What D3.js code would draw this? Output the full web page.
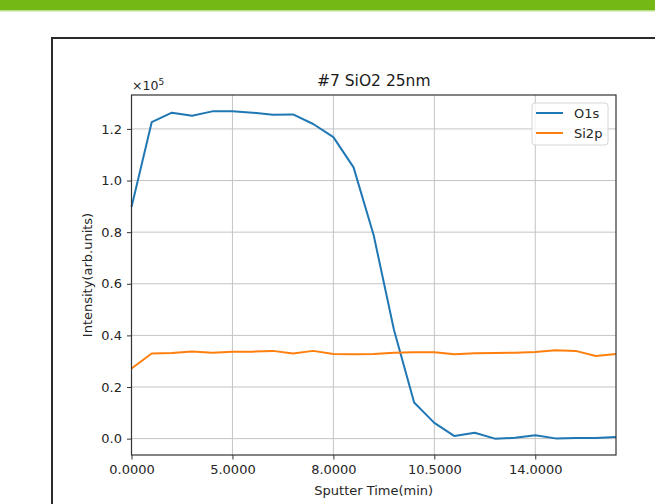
<!DOCTYPE html>
<html>
<head>
<meta charset="utf-8">
<script src="https://cdn.jsdelivr.net/npm/d3@7"></script>
<style>
  html, body { margin: 0; padding: 0; background: #fff; }
  svg { display: block; font-family: "DejaVu Sans", sans-serif; }
</style>
</head>
<body>
<svg id="chart" width="655" height="504"></svg>
<script>
// Sample index on the x axis, labelled with sputter time every 5 points
const tickIndex = [0, 5, 10, 15, 20];
const tickLabels = ["0.0000", "5.0000", "8.0000", "10.5000", "14.0000"];

// Intensities (arb. units)
const o1s = [89700, 122600, 126300, 125100, 126800, 126800, 126300, 125500, 125600, 121900,
             116800, 105100, 78700, 42200, 14000, 6100, 1000, 2300, 0, 300,
             1300, 100, 200, 200, 600];
const si2p = [27200, 33000, 33200, 33800, 33300, 33700, 33700, 34000, 33000, 34000,
              32800, 32700, 32800, 33300, 33500, 33500, 32700, 33100, 33200, 33300,
              33600, 34200, 34000, 32000, 32800];

const yTicks = [0, 20000, 40000, 60000, 80000, 100000, 120000];

const series = [
  { name: "O1s", values: o1s, color: "#1f77b4" },
  { name: "Si2p", values: si2p, color: "#ff7f0e" }
];

const svg = d3.select("#chart");

// page decoration: green header bar and outer box
svg.append("rect").attr("x", 0).attr("y", 0).attr("width", 655).attr("height", 10).attr("fill", "#73b814");
svg.append("rect").attr("x", 0).attr("y", 10).attr("width", 655).attr("height", 1.5).attr("fill", "#b9e08c");
svg.append("rect").attr("x", 52).attr("y", 38).attr("width", 700).attr("height", 600)
  .attr("fill", "none").attr("stroke", "#2a2a2a").attr("stroke-width", 2);

// plot area
const plot = { left: 131.5, right: 616, top: 95, bottom: 455 };

const x = d3.scaleLinear()
  .domain([0, o1s.length - 1])
  .range([plot.left, plot.right]);

// matplotlib style 5% margins on y
const allVals = o1s.concat(si2p);
const yMin = d3.min(allVals), yMax = d3.max(allVals);
const pad = (yMax - yMin) * 0.05;
const y = d3.scaleLinear()
  .domain([yMin - pad, yMax + pad])
  .range([plot.bottom, plot.top]);

// grid
const grid = svg.append("g");
grid.selectAll(".gx").data(tickIndex).enter().append("line")
  .attr("x1", d => x(d)).attr("x2", d => x(d))
  .attr("y1", plot.top).attr("y2", plot.bottom)
  .attr("stroke", "#c4c4c4").attr("stroke-width", 1);
grid.selectAll(".gy").data(yTicks).enter().append("line")
  .attr("x1", plot.left).attr("x2", plot.right)
  .attr("y1", d => y(d)).attr("y2", d => y(d))
  .attr("stroke", "#c4c4c4").attr("stroke-width", 1);

// lines
const line = d3.line()
  .x((d, i) => x(i))
  .y(d => y(d));

svg.selectAll(".series").data(series).enter().append("path")
  .attr("d", d => line(d.values))
  .attr("fill", "none")
  .attr("stroke", d => d.color)
  .attr("stroke-width", 2)
  .attr("stroke-linejoin", "round");

// frame
svg.append("rect")
  .attr("x", plot.left).attr("y", plot.top)
  .attr("width", plot.right - plot.left).attr("height", plot.bottom - plot.top)
  .attr("fill", "none").attr("stroke", "#333").attr("stroke-width", 1.2);

// axes
const xAxis = svg.append("g")
  .attr("transform", `translate(0,${plot.bottom})`)
  .call(d3.axisBottom(x)
    .tickValues(tickIndex)
    .tickFormat((d, i) => tickLabels[i])
    .tickSize(4.5)
    .tickPadding(5));

const yAxis = svg.append("g")
  .attr("transform", `translate(${plot.left},0)`)
  .call(d3.axisLeft(y)
    .tickValues(yTicks)
    .tickFormat(d => (d / 1e5).toFixed(1))
    .tickSize(4.5)
    .tickPadding(5));

[xAxis, yAxis].forEach(g => {
  g.select(".domain").remove();
  g.selectAll(".tick line").attr("stroke", "#333");
  g.selectAll(".tick text")
    .attr("fill", "#262626")
    .style("font-family", "DejaVu Sans")
    .style("font-size", "13px");
});

// offset text
const offset = svg.append("text")
  .attr("x", 132).attr("y", 90)
  .attr("fill", "#262626")
  .style("font-size", "12.5px");
offset.append("tspan").text("×10");
offset.append("tspan").attr("dy", -5).style("font-size", "9px").text("5");

// title and axis labels
svg.append("text")
  .attr("x", (plot.left + plot.right) / 2).attr("y", 86)
  .attr("text-anchor", "middle")
  .attr("fill", "#1a1a1a")
  .style("font-size", "15.5px")
  .text("#7 SiO2 25nm");

svg.append("text")
  .attr("x", (plot.left + plot.right) / 2).attr("y", 495)
  .attr("text-anchor", "middle")
  .attr("fill", "#262626")
  .style("font-size", "13px")
  .text("Sputter Time(min)");

svg.append("text")
  .attr("transform", `translate(92,${(plot.top + plot.bottom) / 2}) rotate(-90)`)
  .attr("text-anchor", "middle")
  .attr("fill", "#262626")
  .style("font-size", "13px")
  .text("Intensity(arb.units)");

// legend
const legend = svg.append("g").attr("transform", "translate(532,103)");
legend.append("rect")
  .attr("width", 76).attr("height", 42)
  .attr("rx", 3)
  .attr("fill", "#fff").attr("fill-opacity", 0.8)
  .attr("stroke", "#d6d6d6");
const item = legend.selectAll(".item").data(series).enter().append("g")
  .attr("transform", (d, i) => `translate(0,${10 + i * 20})`);
item.append("line")
  .attr("x1", 4).attr("x2", 31)
  .attr("stroke", d => d.color).attr("stroke-width", 2);
item.append("text")
  .attr("x", 42).attr("dy", "0.35em")
  .attr("fill", "#262626")
  .style("font-size", "13px")
  .text(d => d.name);
</script>
</body>
</html>
